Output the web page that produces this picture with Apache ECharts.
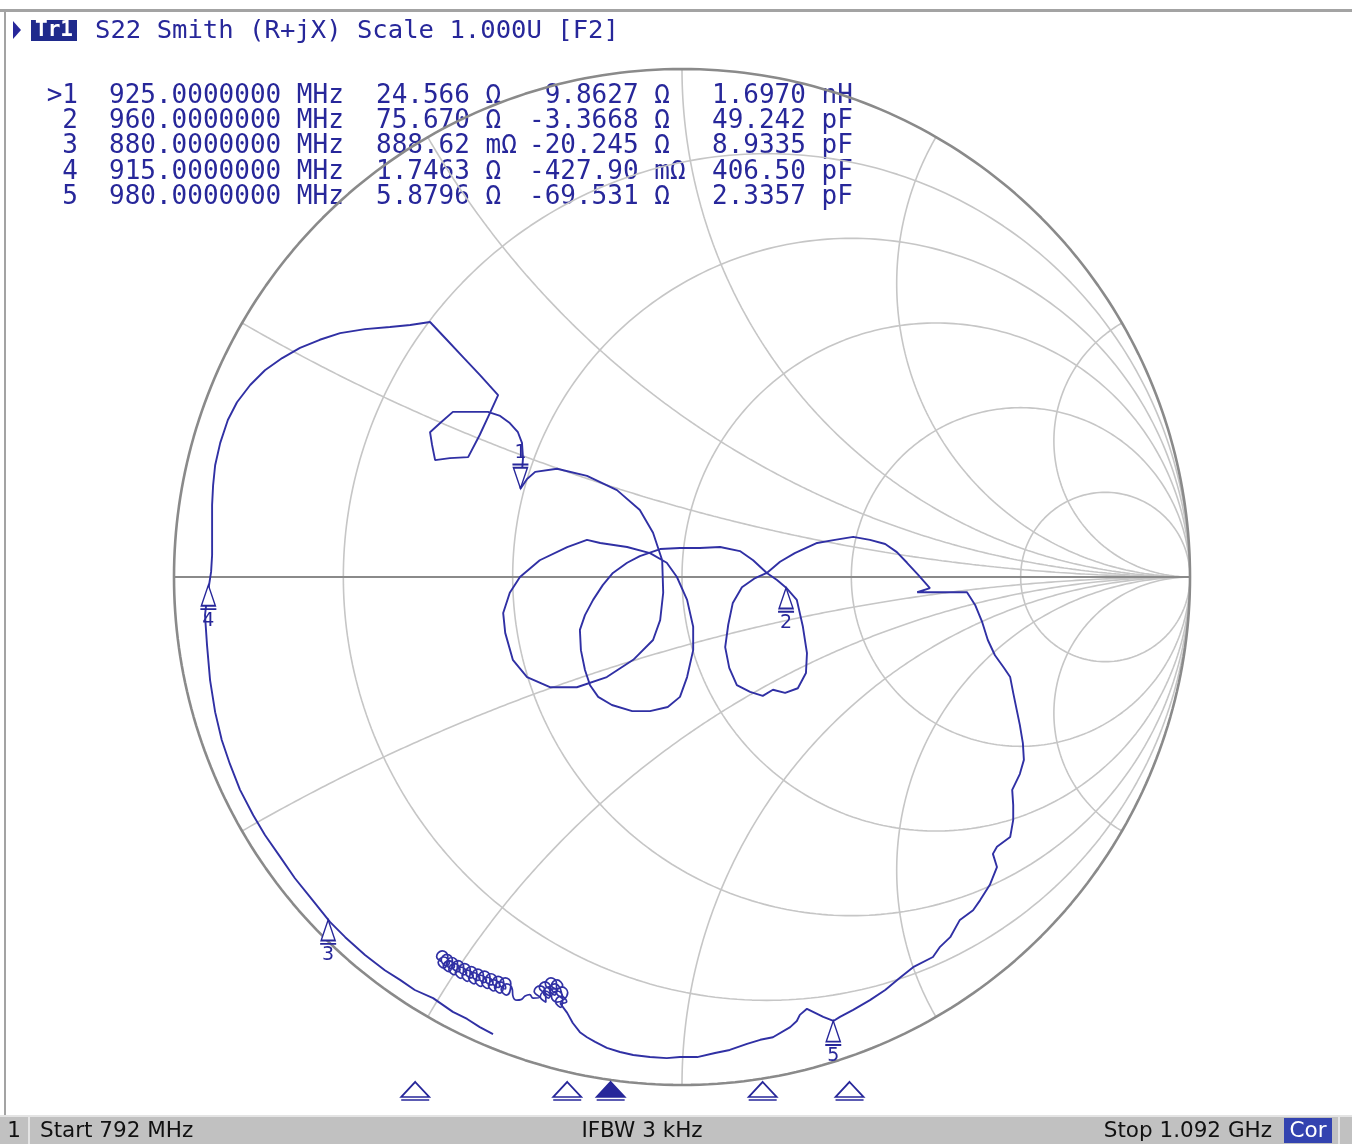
<!DOCTYPE html>
<html>
<head>
<meta charset="utf-8">
<script src="https://cdn.jsdelivr.net/npm/echarts@6/dist/echarts.min.js"></script>
<style>
  html, body { margin: 0; padding: 0; background: #fff; }
  #smith { width: 1352px; height: 1144px; }
</style>
</head>
<body>
<div id="smith"></div>
<script>
var chartDom = document.getElementById('smith');
var myChart = echarts.init(chartDom);
var option;

// sweep
const startMHz = 792;
const stopMHz = 1092;
const z0 = 50;

// smith grid (normalised resistance circles / reactance arcs)
const rGrid = [0.2, 0.5, 1, 2, 5];
const xGrid = [0.268, 0.577, 1, 1.732, 3.732];

// marker table
const markerNames = ['>1', '2', '3', '4', '5'];
const markerFreqMHz = [925, 960, 880, 915, 980];
const markerFreqText = ['925.0000000 MHz', '960.0000000 MHz', '880.0000000 MHz', '915.0000000 MHz', '980.0000000 MHz'];
const markerR = [24.566, 75.670, 0.88862, 1.7463, 5.8796];
const markerX = [9.8627, -3.3668, -20.245, -0.42790, -69.531];
const markerRText = ['24.566 Ω', '75.670 Ω', '888.62 mΩ', '1.7463 Ω', '5.8796 Ω'];
const markerXText = [' 9.8627 Ω', '-3.3668 Ω', '-20.245 Ω', '-427.90 mΩ', '-69.531 Ω'];
const markerLCText = ['1.6970 nH', '49.242 pF', '8.9335 pF', '406.50 pF', '2.3357 pF'];
const activeMarker = 0;

const traceRe = [
  -0.372, -0.398, -0.423, -0.451, -0.490, -0.526, -0.555, -0.585, -0.624, -0.663,
  -0.693, -0.732, -0.762, -0.791, -0.821, -0.844, -0.870, -0.890, -0.906, -0.919,
  -0.929, -0.935, -0.939, -0.935, -0.931, -0.927, -0.925, -0.925, -0.925, -0.923,
  -0.919, -0.909, -0.894, -0.876, -0.850, -0.821, -0.787, -0.752, -0.713, -0.673,
  -0.624, -0.575, -0.535, -0.496,
  -0.463, -0.431, -0.398, -0.362, -0.378, -0.398, -0.421, -0.457, -0.486, -0.492,
  -0.496, -0.476, -0.451, -0.417, -0.382, -0.358, -0.339, -0.323, -0.315, -0.313,
  -0.315, -0.318, -0.305, -0.289, -0.246, -0.187, -0.128, -0.083, -0.057, -0.039,
  -0.037, -0.043, -0.057, -0.096, -0.148, -0.207, -0.260, -0.305, -0.333, -0.348,
  -0.352, -0.339, -0.319, -0.280, -0.226, -0.187, -0.161, -0.108, -0.063, -0.030,
  -0.010, 0.010, 0.022, 0.022, 0.010, -0.004, -0.028, -0.063, -0.098, -0.138,
  -0.165, -0.181, -0.191, -0.199, -0.201, -0.191, -0.175, -0.156, -0.136, -0.108,
  -0.083, -0.043, -0.004, 0.035, 0.075, 0.114, 0.140, 0.167, 0.187, 0.205,
  0.226, 0.238, 0.246, 0.244, 0.228, 0.203, 0.179, 0.159, 0.134, 0.108,
  0.093, 0.085, 0.091, 0.100, 0.118, 0.144, 0.167, 0.193, 0.222, 0.266,
  0.301, 0.337, 0.370, 0.400, 0.423, 0.443, 0.465, 0.488, 0.463, 0.508,
  0.561, 0.577, 0.591, 0.602, 0.616, 0.634, 0.646, 0.652, 0.659, 0.665,
  0.671, 0.673, 0.665, 0.650, 0.652, 0.652, 0.646, 0.620, 0.612, 0.620,
  0.606, 0.587, 0.573, 0.547, 0.528, 0.508, 0.494, 0.455, 0.429, 0.400,
  0.370, 0.337, 0.311, 0.298, 0.278, 0.262, 0.246, 0.232, 0.226, 0.213,
  0.179, 0.154, 0.128, 0.094, 0.065, 0.030, -0.004, -0.030, -0.063, -0.096,
  -0.122, -0.148, -0.171, -0.187, -0.201, -0.215, -0.226, -0.240,
  // noisy tail near the stop frequency
  -0.227, -0.238, -0.249, -0.238, -0.235, -0.246, -0.257, -0.246,
  -0.225, -0.236, -0.247, -0.236, -0.239, -0.250, -0.261, -0.250,
  -0.247, -0.258, -0.269, -0.258, -0.235, -0.246, -0.257, -0.246,
  -0.251, -0.262, -0.273, -0.262, -0.259, -0.270, -0.281, -0.270,
  -0.257, -0.268, -0.279, -0.268, -0.269, -0.280, -0.291, -0.280,
  -0.293, -0.300, -0.309, -0.317, -0.325, -0.333,
  -0.334, -0.345, -0.356, -0.345, -0.337, -0.348, -0.359, -0.348,
  -0.347, -0.358, -0.369, -0.358, -0.351, -0.362, -0.373, -0.362,
  -0.359, -0.370, -0.381, -0.370, -0.365, -0.376, -0.387, -0.376,
  -0.372, -0.383, -0.394, -0.383, -0.378, -0.389, -0.400, -0.389,
  -0.385, -0.396, -0.407, -0.396, -0.391, -0.402, -0.413, -0.402,
  -0.398, -0.409, -0.420, -0.409, -0.404, -0.415, -0.426, -0.415,
  -0.411, -0.422, -0.433, -0.422, -0.417, -0.428, -0.439, -0.428,
  -0.424, -0.435, -0.446, -0.435, -0.430, -0.441, -0.452, -0.441,
  -0.437, -0.448, -0.459, -0.448, -0.442, -0.453, -0.464, -0.453,
  -0.448, -0.459, -0.470, -0.459, -0.452, -0.463, -0.474, -0.463,
  -0.458, -0.469, -0.480, -0.469, -0.461, -0.472, -0.483, -0.472
];
const traceIm = [
  -0.900, -0.886, -0.870, -0.856, -0.829, -0.813, -0.793, -0.774, -0.744, -0.709,
  -0.679, -0.630, -0.593, -0.551, -0.508, -0.469, -0.419, -0.368, -0.321, -0.266,
  -0.203, -0.134, -0.075, -0.041, -0.016, 0.010, 0.043, 0.093, 0.142, 0.181,
  0.220, 0.264, 0.309, 0.344, 0.378, 0.407, 0.431, 0.451, 0.467, 0.480,
  0.488, 0.492, 0.496, 0.502,
  0.467, 0.433, 0.398, 0.358, 0.323, 0.280, 0.236, 0.234, 0.230, 0.260,
  0.285, 0.303, 0.325, 0.325, 0.325, 0.317, 0.303, 0.285, 0.264, 0.234,
  0.207, 0.174, 0.193, 0.207, 0.213, 0.199, 0.171, 0.132, 0.087, 0.033,
  -0.031, -0.085, -0.124, -0.163, -0.197, -0.217, -0.217, -0.197, -0.163, -0.110,
  -0.071, -0.031, 0.000, 0.033, 0.059, 0.073, 0.067, 0.059, 0.047, 0.028,
  0.000, -0.045, -0.098, -0.144, -0.197, -0.236, -0.256, -0.264, -0.264, -0.252,
  -0.236, -0.213, -0.183, -0.144, -0.104, -0.075, -0.045, -0.016, 0.008, 0.028,
  0.041, 0.055, 0.057, 0.057, 0.059, 0.051, 0.033, 0.008, -0.006, -0.021,
  -0.045, -0.098, -0.150, -0.189, -0.219, -0.228, -0.222, -0.234, -0.226, -0.213,
  -0.179, -0.138, -0.094, -0.051, -0.020, -0.002, 0.008, 0.030, 0.047, 0.067,
  0.073, 0.079, 0.073, 0.065, 0.049, 0.028, 0.004, -0.022, -0.030, -0.030,
  -0.030, -0.055, -0.089, -0.124, -0.154, -0.179, -0.197, -0.228, -0.262, -0.291,
  -0.327, -0.360, -0.388, -0.419, -0.449, -0.478, -0.512, -0.531, -0.545, -0.571,
  -0.606, -0.636, -0.656, -0.675, -0.709, -0.728, -0.748, -0.768, -0.789, -0.813,
  -0.833, -0.852, -0.866, -0.874, -0.866, -0.858, -0.850, -0.862, -0.874, -0.886,
  -0.906, -0.911, -0.919, -0.931, -0.937, -0.945, -0.945, -0.947, -0.945, -0.941,
  -0.935, -0.927, -0.915, -0.906, -0.896, -0.878, -0.858, -0.839,
  // noisy tail near the stop frequency
  -0.836, -0.825, -0.836, -0.847, -0.826, -0.815, -0.826, -0.837,
  -0.818, -0.807, -0.818, -0.829, -0.812, -0.801, -0.812, -0.823,
  -0.800, -0.789, -0.800, -0.811, -0.804, -0.793, -0.804, -0.815,
  -0.818, -0.807, -0.818, -0.829, -0.808, -0.797, -0.808, -0.819,
  -0.826, -0.815, -0.826, -0.837, -0.816, -0.805, -0.816, -0.827,
  -0.829, -0.822, -0.825, -0.832, -0.833, -0.824,
  -0.812, -0.801, -0.812, -0.823, -0.800, -0.789, -0.800, -0.811,
  -0.808, -0.797, -0.808, -0.819, -0.797, -0.786, -0.797, -0.808,
  -0.804, -0.793, -0.804, -0.815, -0.792, -0.781, -0.792, -0.803,
  -0.799, -0.788, -0.799, -0.810, -0.787, -0.776, -0.787, -0.798,
  -0.795, -0.784, -0.795, -0.806, -0.783, -0.772, -0.783, -0.794,
  -0.790, -0.779, -0.790, -0.801, -0.778, -0.767, -0.778, -0.789,
  -0.785, -0.774, -0.785, -0.796, -0.772, -0.761, -0.772, -0.783,
  -0.779, -0.768, -0.779, -0.790, -0.766, -0.755, -0.766, -0.777,
  -0.772, -0.761, -0.772, -0.783, -0.760, -0.749, -0.760, -0.771,
  -0.766, -0.755, -0.766, -0.777, -0.754, -0.743, -0.754, -0.765,
  -0.759, -0.748, -0.759, -0.770, -0.747, -0.736, -0.747, -0.758
];
const tailStart = 211;

const navy = '#27279a';
const traceColor = '#3030a4';
const gridColor = '#c6c6c6';
const rimColor = '#8a8a8a';
const monoFont = '"DejaVu Sans Mono", monospace';

function gammaOf(r, x) {
  const d = (r + 1) * (r + 1) + x * x;
  return [(r * r + x * x - 1) / d, (2 * x) / d];
}

function rCircle(r) {
  const c = r / (1 + r), rad = 1 / (1 + r);
  const pts = [];
  for (let i = 0; i <= 360; i++) {
    const t = i * Math.PI / 180;
    pts.push([c + rad * Math.cos(t), rad * Math.sin(t)]);
  }
  return pts;
}

function xArc(x) {
  const pts = [];
  for (let i = 0; i < 300; i++) {
    const r = Math.tan(i / 300 * Math.PI / 2);
    pts.push(gammaOf(r, x));
  }
  pts.push([1, 0]);
  return pts;
}

function gridSeries(data, color, width) {
  return {
    type: 'line', xAxisIndex: 0, yAxisIndex: 0,
    data: data, symbol: 'none', silent: true, clip: false,
    lineStyle: { color: color, width: width }, z: 1
  };
}

const series = [];
rGrid.forEach(function (r) { series.push(gridSeries(rCircle(r), gridColor, 1.6)); });
xGrid.forEach(function (x) {
  series.push(gridSeries(xArc(x), gridColor, 1.6));
  series.push(gridSeries(xArc(-x), gridColor, 1.6));
});
series.push(gridSeries(rCircle(0), rimColor, 2.6));
series.push(gridSeries([[-1, 0], [1, 0]], rimColor, 2.2));

// trace
const traceData = traceRe.map(function (v, i) { return [v, traceIm[i]]; });
series.push({
  type: 'line', xAxisIndex: 0, yAxisIndex: 0,
  data: traceData.slice(0, tailStart + 1), symbol: 'none', silent: true, clip: false,
  lineStyle: { color: traceColor, width: 1.9 }, z: 3
});
series.push({
  type: 'line', xAxisIndex: 0, yAxisIndex: 0,
  data: traceData.slice(tailStart), symbol: 'none', silent: true, clip: false, smooth: 0.5,
  lineStyle: { color: traceColor, width: 1.7 }, z: 3
});

// markers on the trace
const upMark = 'path://M8,0 L15,19 L1,19 Z M0,22 L16,22';
const downMark = 'path://M0,0 L16,0 M1,3 L15,3 L8,22 Z';
const markerData = markerR.map(function (R, i) {
  const g = gammaOf(R / z0, markerX[i] / z0);
  const down = (i === activeMarker);
  return {
    value: g,
    symbol: down ? downMark : upMark,
    symbolOffset: [0, down ? -12 : 12],
    label: {
      show: true, formatter: String(i + 1),
      position: down ? 'top' : 'bottom', distance: 1,
      color: navy, fontSize: 19, fontFamily: 'DejaVu Sans'
    }
  };
});
series.push({
  type: 'scatter', xAxisIndex: 0, yAxisIndex: 0,
  data: markerData, symbolSize: [16, 24], clip: false, silent: true,
  itemStyle: { color: '#ffffff', borderColor: navy, borderWidth: 1.6, opacity: 1 }, z: 5
});

// marker position indicators along the sweep
const stimMark = 'path://M14,0 L28,15 L0,15 Z M0,18 L28,18';
series.push({
  type: 'scatter', xAxisIndex: 1, yAxisIndex: 1,
  data: markerFreqMHz.map(function (f, i) {
    return {
      value: [f, 0],
      itemStyle: { color: i === activeMarker ? navy : '#ffffff' }
    };
  }),
  symbol: stimMark, symbolSize: [28, 18], clip: false, silent: true,
  itemStyle: { borderColor: navy, borderWidth: 1.8, opacity: 1 }, z: 5
});

// texts
const graphic = [];
graphic.push({ type: 'rect', shape: { x: 0, y: 9, width: 1352, height: 3 }, style: { fill: '#a3a3a3' } });
graphic.push({ type: 'rect', shape: { x: 4, y: 9, width: 2, height: 1107 }, style: { fill: '#a3a3a3' } });
graphic.push({ type: 'polygon', shape: { points: [[13, 21], [21, 30], [13, 39]] }, style: { fill: navy } });
graphic.push({ type: 'rect', shape: { x: 31, y: 20, width: 46, height: 21 }, style: { fill: '#1f2a8c' } });
graphic.push({ type: 'text', style: { text: 'Tr1', x: 54, y: 31, fill: '#ffffff', font: 'bold 21px ' + monoFont, textAlign: 'center', textVerticalAlign: 'middle' } });
graphic.push({ type: 'text', style: { text: 'S22 Smith (R+jX) Scale 1.000U [F2]', x: 95, y: 31, fill: navy, font: '25.6px ' + monoFont, textVerticalAlign: 'middle' } });

const rowY = [96, 121, 146, 172, 197];
markerNames.forEach(function (n, i) {
  const y = rowY[i];
  const f = '26px ' + monoFont;
  graphic.push({ type: 'text', style: { text: n, x: 78, y: y, fill: navy, font: f, textAlign: 'right', textVerticalAlign: 'middle' } });
  graphic.push({ type: 'text', style: { text: markerFreqText[i], x: 109, y: y, fill: navy, font: f, textVerticalAlign: 'middle' } });
  graphic.push({ type: 'text', style: { text: markerRText[i], x: 376, y: y, fill: navy, font: f, textVerticalAlign: 'middle' } });
  graphic.push({ type: 'text', style: { text: markerXText[i], x: 529, y: y, fill: navy, font: f, textVerticalAlign: 'middle' } });
  graphic.push({ type: 'text', style: { text: markerLCText[i], x: 712, y: y, fill: navy, font: f, textVerticalAlign: 'middle' } });
});

// status bar
const sbFont = '21.5px "DejaVu Sans", sans-serif';
graphic.push({ type: 'rect', shape: { x: 0, y: 1115, width: 1352, height: 29 }, style: { fill: '#c1c1c1' } });
graphic.push({ type: 'rect', shape: { x: 0, y: 1115, width: 1352, height: 2 }, style: { fill: '#e4e4e4' } });
graphic.push({ type: 'rect', shape: { x: 28, y: 1117, width: 2, height: 27 }, style: { fill: '#e4e4e4' } });
graphic.push({ type: 'text', style: { text: '1', x: 14, y: 1131, fill: '#111', font: sbFont, textAlign: 'center', textVerticalAlign: 'middle' } });
graphic.push({ type: 'text', style: { text: 'Start ' + startMHz + ' MHz', x: 40, y: 1131, fill: '#111', font: sbFont, textVerticalAlign: 'middle' } });
graphic.push({ type: 'text', style: { text: 'IFBW 3 kHz', x: 642, y: 1131, fill: '#111', font: sbFont, textAlign: 'center', textVerticalAlign: 'middle' } });
graphic.push({ type: 'text', style: { text: 'Stop ' + (stopMHz / 1000).toFixed(3) + ' GHz', x: 1272, y: 1131, fill: '#111', font: sbFont, textAlign: 'right', textVerticalAlign: 'middle' } });
graphic.push({ type: 'rect', shape: { x: 1284, y: 1118, width: 48, height: 25 }, style: { fill: '#3343b0' } });
graphic.push({ type: 'text', style: { text: 'Cor', x: 1308, y: 1131, fill: '#ffffff', font: sbFont, textAlign: 'center', textVerticalAlign: 'middle' } });
graphic.push({ type: 'rect', shape: { x: 1338, y: 1117, width: 2, height: 27 }, style: { fill: '#e4e4e4' } });

option = {
  animation: false,
  backgroundColor: '#ffffff',
  grid: [
    { left: 174, top: 69, width: 1016, height: 1016 },
    { left: 33, top: 1079, width: 1303, height: 12 }
  ],
  xAxis: [
    { type: 'value', gridIndex: 0, min: -1, max: 1, show: false },
    { type: 'value', gridIndex: 1, min: startMHz, max: stopMHz, show: false }
  ],
  yAxis: [
    { type: 'value', gridIndex: 0, min: -1, max: 1, show: false },
    { type: 'value', gridIndex: 1, min: 0, max: 1, show: false }
  ],
  series: series,
  graphic: graphic
};

option && myChart.setOption(option);
</script>
</body>
</html>
